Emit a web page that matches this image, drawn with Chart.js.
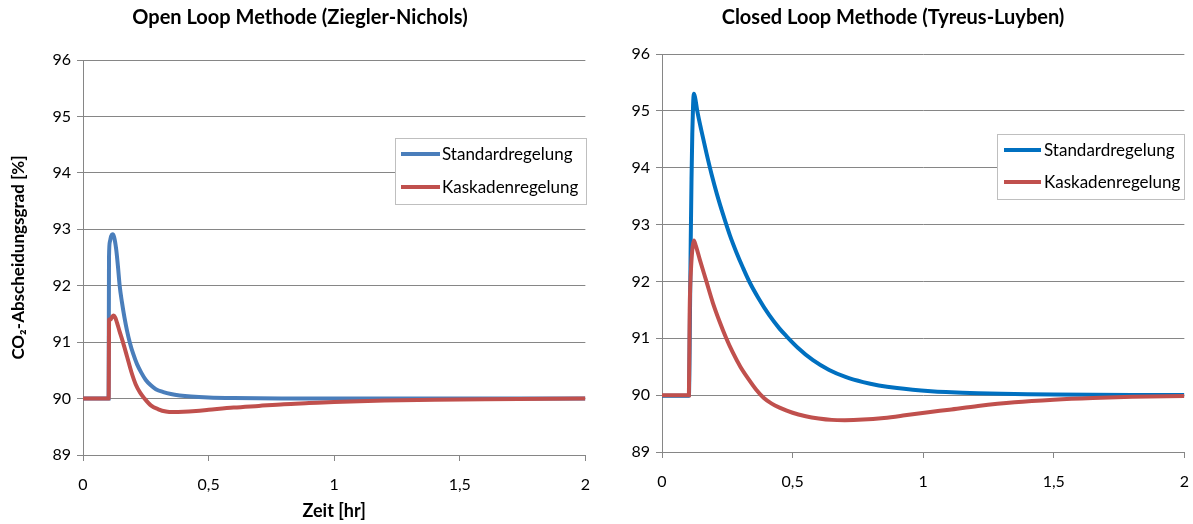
<!DOCTYPE html>
<html>
<head>
<meta charset="utf-8">
<script src="https://cdn.jsdelivr.net/npm/chart.js@4.4.1/dist/chart.umd.min.js"></script>
<style>
  html, body { margin: 0; padding: 0; background: #ffffff; }
  #wrap { position: relative; width: 1193px; height: 524px; overflow: hidden; }
  #c1 { position: absolute; left: 0; top: 0; z-index: 2; }
  #c2 { position: absolute; left: 597px; top: 0; z-index: 1; }
</style>
</head>
<body>
<div id="wrap">
  <canvas id="c1" width="604" height="524"></canvas>
  <canvas id="c2" width="606" height="524"></canvas>
</div>
<script>
// ---- Open loop (Ziegler-Nichols) ----
const openStdTime = [0, 0.05, 0.102, 0.1035, 0.107, 0.112, 0.118, 0.124, 0.132, 0.139, 0.146, 0.155, 0.165, 0.175, 0.186, 0.2, 0.215, 0.232, 0.25, 0.27, 0.29, 0.32, 0.35, 0.385, 0.43, 0.5, 0.6, 0.8, 1.0, 1.5, 2.0];
const openStdValue = [90, 90, 90, 92.5, 92.78, 92.88, 92.91, 92.86, 92.65, 92.35, 92.0, 91.71, 91.44, 91.21, 91.0, 90.79, 90.61, 90.46, 90.33, 90.235, 90.167, 90.115, 90.08, 90.055, 90.035, 90.018, 90.008, 90.002, 90.001, 90.0, 90.0];
const openKasTime = [0, 0.05, 0.102, 0.104, 0.110, 0.116, 0.122, 0.128, 0.135, 0.145, 0.159, 0.175, 0.192, 0.21, 0.228, 0.245, 0.27, 0.3, 0.33, 0.36, 0.4, 0.45, 0.5, 0.6, 0.7, 0.8, 0.9, 1.0, 1.2, 1.4, 1.6, 2.0];
const openKasValue = [90, 90, 90, 91.40, 91.40, 91.45, 91.47, 91.44, 91.35, 91.20, 91.0, 90.75, 90.48, 90.25, 90.10, 90.0, 89.88, 89.81, 89.77, 89.76, 89.765, 89.78, 89.80, 89.84, 89.87, 89.90, 89.92, 89.94, 89.965, 89.98, 89.99, 90.0];

// ---- Closed loop (Tyreus-Luyben) ----
const closedStdTime = [0, 0.05, 0.103, 0.107, 0.110, 0.113, 0.116, 0.119, 0.122, 0.126, 0.135, 0.15, 0.17, 0.19, 0.21, 0.235, 0.26, 0.285, 0.31, 0.335, 0.37, 0.41, 0.45, 0.478, 0.52, 0.578, 0.64, 0.705, 0.77, 0.83, 0.9, 0.96, 1.03, 1.087, 1.15, 1.21, 1.3, 1.4, 1.5, 1.65, 1.8, 2.0];
const closedStdValue = [89.99, 89.99, 89.99, 91.4, 92.7, 93.8, 94.6, 95.1, 95.3, 95.25, 95.0, 94.67, 94.26, 93.88, 93.54, 93.16, 92.81, 92.51, 92.24, 91.99, 91.70, 91.41, 91.17, 91.03, 90.835, 90.614, 90.442, 90.315, 90.228, 90.171, 90.124, 90.095, 90.070, 90.055, 90.042, 90.033, 90.023, 90.0154, 90.0103, 90.0057, 90.0031, 90.0014];
const closedKasTime = [0, 0.05, 0.103, 0.106, 0.108, 0.112, 0.117, 0.122, 0.13, 0.145, 0.17, 0.195, 0.22, 0.246, 0.27, 0.3, 0.33, 0.36, 0.39, 0.42, 0.45, 0.5, 0.55, 0.6, 0.65, 0.7, 0.77, 0.85, 0.93, 1.02, 1.1, 1.21, 1.35, 1.5, 1.65, 1.8, 2.0];
const closedKasValue = [90.0, 90.0, 90.0, 91.5, 91.9, 92.3, 92.6, 92.72, 92.62, 92.38, 92.0, 91.62, 91.30, 91.0, 90.76, 90.50, 90.29, 90.10, 89.95, 89.85, 89.78, 89.69, 89.63, 89.59, 89.565, 89.56, 89.57, 89.60, 89.645, 89.70, 89.745, 89.81, 89.875, 89.92, 89.95, 89.97, 89.985];

const seriesNames = ['Standardregelung', 'Kaskadenregelung'];
const xTicks = [0, 0.5, 1, 1.5, 2];
const yRange = [89, 96];

const FONT = 'Lato, "Open Sans", sans-serif';
const GRID = '#868686';

function points(ts, vs) {
  return ts.map((t, i) => ({ x: t, y: vs[i] }));
}

// Framed legend drawn inside the plot area
const boxLegend = {
  id: 'boxLegend',
  afterDatasetsDraw(chart, args, o) {
    if (!o || !o.box) return;
    const ctx = chart.ctx;
    const [bx, by, bw, bh] = o.box;
    ctx.save();
    ctx.fillStyle = '#ffffff';
    ctx.fillRect(bx, by, bw, bh);
    ctx.strokeStyle = '#bfbfbf';
    ctx.lineWidth = 1;
    ctx.strokeRect(bx + 0.5, by + 0.5, bw, bh);
    chart.data.datasets.forEach((ds, i) => {
      const y = o.rows[i];
      ctx.strokeStyle = ds.borderColor;
      ctx.lineWidth = ds.borderWidth;
      ctx.lineCap = 'butt';
      ctx.beginPath();
      ctx.moveTo(o.lineX[0], y);
      ctx.lineTo(o.lineX[1], y);
      ctx.stroke();
      ctx.fillStyle = '#000000';
      ctx.font = o.fontSize + 'px ' + FONT;
      ctx.textBaseline = 'middle';
      ctx.textAlign = 'left';
      ctx.fillText(ds.label, o.textX, y + 1);
    });
    ctx.restore();
  }
};

function makeChart(id, cfg) {
  return new Chart(document.getElementById(id), {
    type: 'line',
    data: {
      datasets: [
        { label: seriesNames[0], data: points(cfg.stdT, cfg.stdV), borderColor: cfg.stdColor,
          borderWidth: 4, pointRadius: 0, cubicInterpolationMode: 'monotone', order: 2, fill: false },
        { label: seriesNames[1], data: points(cfg.kasT, cfg.kasV), borderColor: cfg.kasColor,
          borderWidth: 4, pointRadius: 0, cubicInterpolationMode: 'monotone', order: 1, fill: false }
      ]
    },
    options: {
      responsive: false,
      animation: false,
      devicePixelRatio: 1,
      layout: { padding: { left: 0, right: cfg.padRight, top: 0, bottom: 0 } },
      plugins: {
        legend: { display: false },
        tooltip: { enabled: false },
        title: {
          display: true, text: cfg.title, color: '#000000',
          font: { family: FONT, size: 20, weight: 'bold' },
          padding: { top: 6, bottom: cfg.titleGap }
        },
        boxLegend: cfg.legend
      },
      scales: {
        x: {
          type: 'linear', min: 0, max: 2,
          afterBuildTicks: s => { s.ticks = xTicks.map(v => ({ value: v })); },
          ticks: {
            color: '#000000', font: { family: FONT, size: 16 }, padding: 14,
            maxRotation: 0, autoSkip: false,
            callback: v => String(v).replace('.', ',')
          },
          grid: { drawOnChartArea: false, drawTicks: true, tickLength: 6, color: GRID, lineWidth: 1 },
          border: { display: true, color: GRID, width: 1 },
          title: {
            display: cfg.xTitle, text: 'Zeit [hr]', color: '#000000',
            font: { family: FONT, size: 18, weight: 'bold' }, padding: { top: 2, bottom: 2 }
          },
          afterFit: s => { s.height = cfg.xHeight; }
        },
        y: {
          type: 'linear', min: yRange[0], max: yRange[1],
          ticks: { stepSize: 1, color: '#000000', font: { family: FONT, size: 16 }, padding: 6 },
          grid: { color: GRID, lineWidth: 1, tickLength: 6, drawTicks: true },
          border: { display: true, color: GRID, width: 1 },
          title: {
            display: cfg.yTitle, text: 'CO\u2082-Abscheidungsgrad [%]', color: '#000000',
            font: { family: FONT, size: 17, weight: 'bold' }, padding: { top: 8, bottom: 0 }
          },
          afterFit: s => { s.width = cfg.yWidth; }
        }
      }
    },
    plugins: [boxLegend]
  });
}

makeChart('c1', {
  title: 'Open Loop Methode (Ziegler-Nichols)',
  stdT: openStdTime, stdV: openStdValue, kasT: openKasTime, kasV: openKasValue,
  stdColor: '#4a7ebb', kasColor: '#c0504d',
  yWidth: 83, xHeight: 69, padRight: 4, titleGap: 30,
  xTitle: true, yTitle: true,
  legend: { box: [395, 138, 191, 66], rows: [154, 187], lineX: [401, 440], textX: 442, fontSize: 17 }
});

makeChart('c2', {
  title: 'Closed Loop Methode (Tyreus-Luyben)',
  stdT: closedStdTime, stdV: closedStdValue, kasT: closedKasTime, kasV: closedKasValue,
  stdColor: '#0070c0', kasColor: '#c0504d',
  yWidth: 65, xHeight: 72, padRight: 14, titleGap: 24,
  xTitle: false, yTitle: false,
  legend: { box: [400, 134, 187, 65], rows: [150, 182], lineX: [407, 444], textX: 447, fontSize: 17 }
});
</script>
</body>
</html>
